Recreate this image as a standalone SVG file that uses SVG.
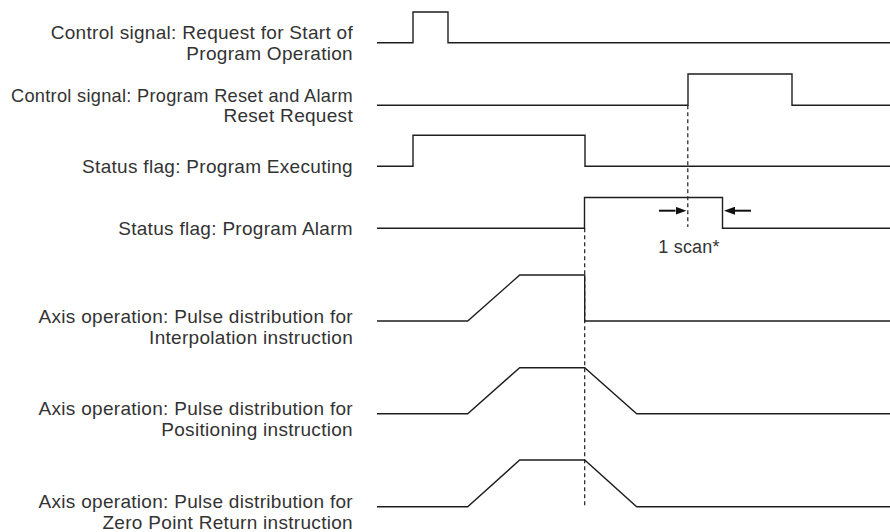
<svg xmlns="http://www.w3.org/2000/svg" width="890" height="532" viewBox="0 0 890 532">
  <style>
    .lbl { font-family: "Liberation Sans", Arial, sans-serif; font-size: 19px; letter-spacing: 0.3px; fill: #333333; text-anchor: end; }
    .note { font-family: "Liberation Sans", Arial, sans-serif; font-size: 18px; letter-spacing: 0.2px; fill: #333333; text-anchor: middle; }
    .wave { fill: none; stroke: #1e1e1e; stroke-width: 1.4; stroke-linejoin: miter; }
    .dash { fill: none; stroke: #1e1e1e; stroke-width: 1.2; stroke-dasharray: 4 3; }
    .arr { fill: none; stroke: #111; stroke-width: 2; }
  </style>
  <defs>
    <marker id="head" markerUnits="userSpaceOnUse" markerWidth="11" markerHeight="8" viewBox="0 0 11 8" refX="0" refY="4" orient="auto">
      <path d="M0,0 L11,4 L0,8 z" fill="#111"/>
    </marker>
  </defs>
  <rect width="890" height="532" fill="#ffffff"/>

  <g id="sig-start-request">
    <text class="lbl" x="353" y="39">Control signal: Request for Start of</text>
    <text class="lbl" x="353" y="59.5">Program Operation</text>
    <path class="wave" d="M377,42.7 H413 V12 H448 V42.7 H890"/>
  </g>

  <g id="sig-reset-request">
    <text class="lbl" x="353" y="101.5" textLength="342" lengthAdjust="spacingAndGlyphs">Control signal: Program Reset and Alarm</text>
    <text class="lbl" x="353" y="121.5">Reset Request</text>
    <path class="wave" d="M377,105.3 H688 V74 H792 V105.3 H890"/>
  </g>

  <g id="flag-executing">
    <text class="lbl" x="353" y="173">Status flag: Program Executing</text>
    <path class="wave" d="M377,166.3 H413 V135.3 H585 V166.3 H890"/>
  </g>

  <g id="flag-alarm">
    <text class="lbl" x="353" y="235">Status flag: Program Alarm</text>
    <path class="wave" d="M377,228.3 H584.5 V197.5 H722.5 V228.3 H890"/>
  </g>

  <g id="axis-interpolation">
    <text class="lbl" x="353" y="322.5">Axis operation: Pulse distribution for</text>
    <text class="lbl" x="353" y="343.5">Interpolation instruction</text>
    <path class="wave" d="M377,321 H467.7 L519.7,275 H584.7 V321 H890"/>
  </g>

  <g id="axis-positioning">
    <text class="lbl" x="353" y="415">Axis operation: Pulse distribution for</text>
    <text class="lbl" x="353" y="436">Positioning instruction</text>
    <path class="wave" d="M377,413.7 H467.7 L519.7,367.7 H584.7 L636.7,413.7 H890"/>
  </g>

  <g id="axis-zero-return">
    <text class="lbl" x="353" y="508">Axis operation: Pulse distribution for</text>
    <text class="lbl" x="353" y="529">Zero Point Return instruction</text>
    <path class="wave" d="M377,506.7 H467.7 L519.7,460 H584.7 L636.7,506.7 H890"/>
  </g>

  <g id="connectors">
    <line class="dash" x1="687.8" y1="105.3" x2="687.8" y2="227"/>
    <line class="dash" x1="584.7" y1="228.3" x2="584.7" y2="507"/>
    <line class="arr" x1="659" y1="210.7" x2="675.5" y2="210.7" marker-end="url(#head)"/>
    <line class="arr" x1="751" y1="210.7" x2="735" y2="210.7" marker-end="url(#head)"/>
    <text class="note" x="689" y="252.5">1 scan*</text>
  </g>
</svg>
